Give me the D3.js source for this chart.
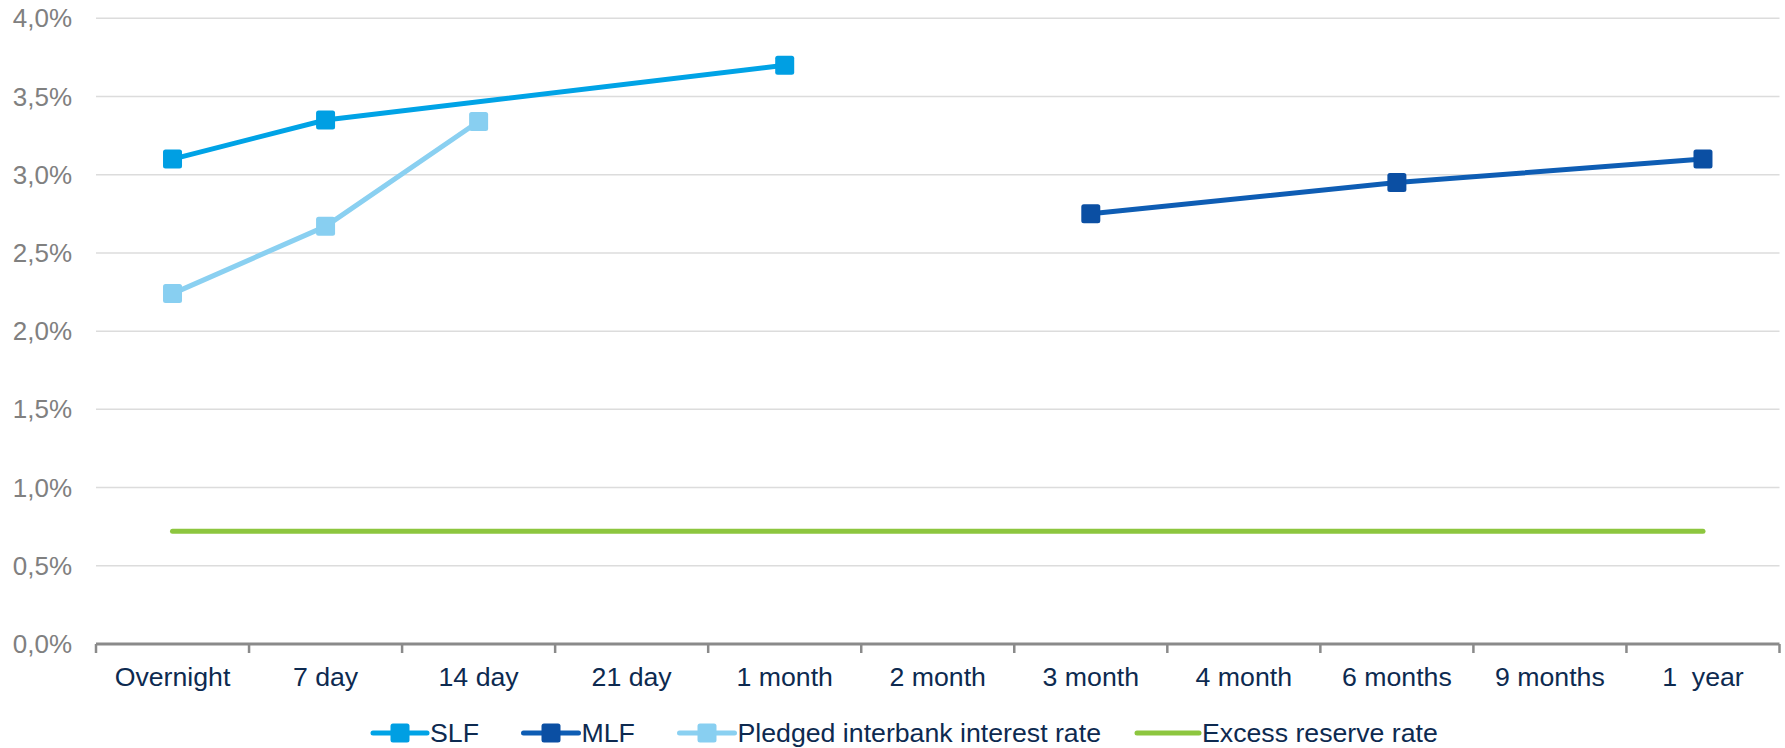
<!DOCTYPE html>
<html><head><meta charset="utf-8">
<script src="https://cdn.jsdelivr.net/npm/d3@7"></script>
<style>
html,body{margin:0;padding:0;background:#fff;}
svg{display:block;font-family:"Liberation Sans",Arial,sans-serif;}
</style></head>
<body><svg id="c" width="1785" height="748"></svg>
<script>
const categories = ["Overnight","7 day","14 day","21 day","1 month","2 month","3 month","4 month","6 months","9 months","1  year"];
const slf     = [3.10, 3.35, null, null, 3.70, null, null, null, null, null, null];
const mlf     = [null, null, null, null, null, null, 2.75, null, 2.95, null, 3.10];
const pledged = [2.24, 2.67, 3.34, null, null, null, null, null, null, null, null];
const excess  = [0.72, 0.72, 0.72, 0.72, 0.72, 0.72, 0.72, 0.72, 0.72, 0.72, 0.72];
const yTicks  = [0, 0.5, 1.0, 1.5, 2.0, 2.5, 3.0, 3.5, 4.0];
const seriesNames = ["SLF","MLF","Pledged interbank interest rate","Excess reserve rate"];

const series = [
  {name: seriesNames[0], values: slf, line: "#00A3E6", marker: "#009FE3", markers: true},
  {name: seriesNames[1], values: mlf, line: "#0E5DB4", marker: "#0B4FA3", markers: true},
  {name: seriesNames[2], values: pledged, line: "#8AD0F1", marker: "#88CFF1", markers: true},
  {name: seriesNames[3], values: excess, line: "#8DC63F", marker: "#8DC63F", markers: false}
];

const svg = d3.select("#c");
const L = 96, R = 1779.5, T = 18.3, B = 644;
const x = d3.scaleBand().domain(categories).range([L, R]);
const y = d3.scaleLinear().domain([0, 4]).range([B, T]);

// gridlines
svg.append("g").selectAll("line").data(yTicks.filter(d => d > 0)).join("line")
  .attr("x1", L).attr("x2", R)
  .attr("y1", d => y(d)).attr("y2", d => y(d))
  .attr("stroke", "#DCDCDC").attr("stroke-width", 1.5);

// y labels
const fmt = d => d.toFixed(1).replace(".", ",") + "%";
svg.append("g").selectAll("text").data(yTicks).join("text")
  .attr("x", 72).attr("y", d => y(d)).attr("dy", "0.35em")
  .attr("text-anchor", "end").attr("fill", "#808080")
  .attr("font-size", 26).text(fmt);

// x axis
const ax = svg.append("g");
ax.append("line").attr("x1", L).attr("x2", R).attr("y1", B).attr("y2", B)
  .attr("stroke", "#8A8A8A").attr("stroke-width", 3);
const bounds = categories.map(c => x(c)).concat([R]);
ax.selectAll("line.tk").data(bounds).join("line").attr("class","tk")
  .attr("x1", d => d).attr("x2", d => d).attr("y1", B).attr("y2", B + 9)
  .attr("stroke", "#8A8A8A").attr("stroke-width", 2.5);
ax.selectAll("text").data(categories).join("text")
  .attr("x", d => x(d) + x.bandwidth()/2).attr("y", 686)
  .attr("text-anchor", "middle").attr("fill", "#0D2A50")
  .attr("font-size", 26.7).style("white-space", "pre").text(d => d);

// lines
const cx = i => x(categories[i]) + x.bandwidth()/2;
series.forEach(s => {
  const pts = s.values.map((v, i) => ({i, v})).filter(p => p.v !== null);
  const line = d3.line().x(p => cx(p.i)).y(p => y(p.v));
  svg.append("path").datum(pts).attr("d", line)
    .attr("fill", "none").attr("stroke", s.line).attr("stroke-width", 5)
    .attr("stroke-linecap", "round").attr("stroke-linejoin", "round");
  if (s.markers) {
    svg.append("g").selectAll("rect").data(pts).join("rect")
      .attr("x", p => cx(p.i) - 9.5).attr("y", p => y(p.v) - 9.5)
      .attr("width", 19).attr("height", 19).attr("rx", 2.5)
      .attr("fill", s.marker);
  }
});

// legend
const legX = [373, 523.5, 679.5, 1137];
const legLen = [54, 55, 55, 62];
const ly = 733;
series.forEach((s, k) => {
  const g = svg.append("g");
  g.append("line").attr("x1", legX[k]).attr("x2", legX[k] + legLen[k])
    .attr("y1", ly).attr("y2", ly).attr("stroke", s.line).attr("stroke-width", 5)
    .attr("stroke-linecap", "round");
  if (s.markers) {
    g.append("rect").attr("x", legX[k] + legLen[k]/2 - 9.5).attr("y", ly - 9.5)
      .attr("width", 19).attr("height", 19).attr("rx", 2.5).attr("fill", s.marker);
  }
  g.append("text").attr("x", legX[k] + legLen[k] + 3).attr("y", ly).attr("dy", "0.35em")
    .attr("fill", "#0D2A50").attr("font-size", 26.7).text(s.name);
});
</script></body></html>
